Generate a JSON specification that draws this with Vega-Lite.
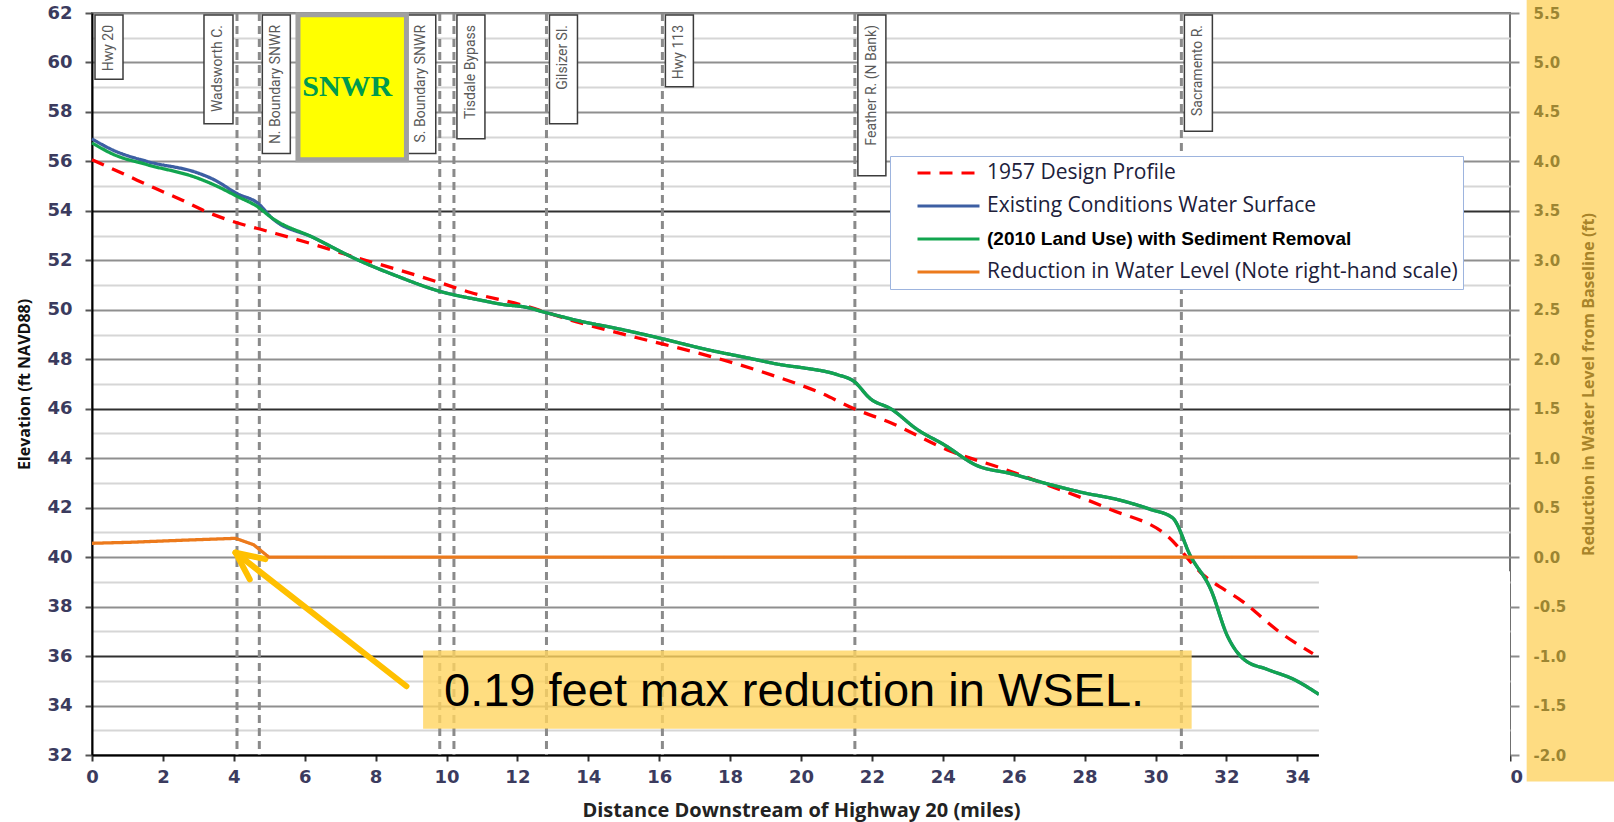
{
  "$schema": "https://vega.github.io/schema/vega-lite/v6.json",
  "width": 1418,
  "height": 742,
  "autosize": {"type": "none"},
  "padding": {"left": 92, "top": 13, "right": 104, "bottom": 67},
  "background": "white",
  "config": {"view": {"stroke": "#707070", "strokeWidth": 2}},
  "data": {"values": [{}]},
  "datasets": {
    "profiles": [
      {"series": "1957 Design Profile", "mile": 0, "elev": 56.07},
      {"series": "1957 Design Profile", "mile": 1.0, "elev": 55.42},
      {"series": "1957 Design Profile", "mile": 1.75, "elev": 54.93},
      {"series": "1957 Design Profile", "mile": 2.5, "elev": 54.46},
      {"series": "1957 Design Profile", "mile": 3.25, "elev": 53.95},
      {"series": "1957 Design Profile", "mile": 4.09, "elev": 53.52},
      {"series": "1957 Design Profile", "mile": 4.94, "elev": 53.18},
      {"series": "1957 Design Profile", "mile": 6.26, "elev": 52.64},
      {"series": "1957 Design Profile", "mile": 7.48, "elev": 52.1},
      {"series": "1957 Design Profile", "mile": 8.61, "elev": 51.63},
      {"series": "1957 Design Profile", "mile": 9.83, "elev": 51.09},
      {"series": "1957 Design Profile", "mile": 10.68, "elev": 50.7},
      {"series": "1957 Design Profile", "mile": 12.09, "elev": 50.21},
      {"series": "1957 Design Profile", "mile": 13.78, "elev": 49.47},
      {"series": "1957 Design Profile", "mile": 15.38, "elev": 48.87},
      {"series": "1957 Design Profile", "mile": 17.26, "elev": 48.19},
      {"series": "1957 Design Profile", "mile": 19.14, "elev": 47.38},
      {"series": "1957 Design Profile", "mile": 20.55, "elev": 46.64},
      {"series": "1957 Design Profile", "mile": 21.5, "elev": 46.0},
      {"series": "1957 Design Profile", "mile": 22.53, "elev": 45.43},
      {"series": "1957 Design Profile", "mile": 24.22, "elev": 44.28},
      {"series": "1957 Design Profile", "mile": 25.63, "elev": 43.61},
      {"series": "1957 Design Profile", "mile": 27.04, "elev": 42.87},
      {"series": "1957 Design Profile", "mile": 28.73, "elev": 41.93},
      {"series": "1957 Design Profile", "mile": 30.34, "elev": 40.85},
      {"series": "1957 Design Profile", "mile": 31.28, "elev": 39.37},
      {"series": "1957 Design Profile", "mile": 32.5, "elev": 38.16},
      {"series": "1957 Design Profile", "mile": 33.53, "elev": 36.94},
      {"series": "1957 Design Profile", "mile": 34.44, "elev": 36.1},
      {"series": "Existing Conditions Water Surface", "mile": 0, "elev": 56.91},
      {"series": "Existing Conditions Water Surface", "mile": 0.6, "elev": 56.45},
      {"series": "Existing Conditions Water Surface", "mile": 1.55, "elev": 56.0},
      {"series": "Existing Conditions Water Surface", "mile": 2.97, "elev": 55.54},
      {"series": "Existing Conditions Water Surface", "mile": 3.43, "elev": 55.27},
      {"series": "Existing Conditions Water Surface", "mile": 4.09, "elev": 54.7},
      {"series": "Existing Conditions Water Surface", "mile": 4.72, "elev": 54.26},
      {"series": "Existing Conditions Water Surface", "mile": 5.03, "elev": 53.77},
      {"series": "Existing Conditions Water Surface", "mile": 6.26, "elev": 52.91},
      {"series": "Existing Conditions Water Surface", "mile": 7.48, "elev": 52.03},
      {"series": "Existing Conditions Water Surface", "mile": 8.61, "elev": 51.36},
      {"series": "Existing Conditions Water Surface", "mile": 9.81, "elev": 50.75},
      {"series": "Existing Conditions Water Surface", "mile": 10.96, "elev": 50.39},
      {"series": "Existing Conditions Water Surface", "mile": 11.62, "elev": 50.21},
      {"series": "Existing Conditions Water Surface", "mile": 12.18, "elev": 50.12},
      {"series": "Existing Conditions Water Surface", "mile": 12.82, "elev": 49.88},
      {"series": "Existing Conditions Water Surface", "mile": 13.78, "elev": 49.54},
      {"series": "Existing Conditions Water Surface", "mile": 14.82, "elev": 49.24},
      {"series": "Existing Conditions Water Surface", "mile": 16.09, "elev": 48.83},
      {"series": "Existing Conditions Water Surface", "mile": 17.26, "elev": 48.42},
      {"series": "Existing Conditions Water Surface", "mile": 18.48, "elev": 48.06},
      {"series": "Existing Conditions Water Surface", "mile": 19.52, "elev": 47.76},
      {"series": "Existing Conditions Water Surface", "mile": 20.08, "elev": 47.65},
      {"series": "Existing Conditions Water Surface", "mile": 21.02, "elev": 47.38},
      {"series": "Existing Conditions Water Surface", "mile": 21.49, "elev": 47.11},
      {"series": "Existing Conditions Water Surface", "mile": 21.96, "elev": 46.4},
      {"series": "Existing Conditions Water Surface", "mile": 22.53, "elev": 46.0},
      {"series": "Existing Conditions Water Surface", "mile": 23.28, "elev": 45.16},
      {"series": "Existing Conditions Water Surface", "mile": 24.03, "elev": 44.55},
      {"series": "Existing Conditions Water Surface", "mile": 24.97, "elev": 43.7},
      {"series": "Existing Conditions Water Surface", "mile": 25.91, "elev": 43.38},
      {"series": "Existing Conditions Water Surface", "mile": 27.04, "elev": 42.93},
      {"series": "Existing Conditions Water Surface", "mile": 27.98, "elev": 42.6},
      {"series": "Existing Conditions Water Surface", "mile": 28.92, "elev": 42.33},
      {"series": "Existing Conditions Water Surface", "mile": 29.86, "elev": 41.93},
      {"series": "Existing Conditions Water Surface", "mile": 30.48, "elev": 41.59},
      {"series": "Existing Conditions Water Surface", "mile": 30.99, "elev": 40.04},
      {"series": "Existing Conditions Water Surface", "mile": 31.56, "elev": 38.69},
      {"series": "Existing Conditions Water Surface", "mile": 32.03, "elev": 36.81},
      {"series": "Existing Conditions Water Surface", "mile": 32.5, "elev": 35.86},
      {"series": "Existing Conditions Water Surface", "mile": 33.16, "elev": 35.46},
      {"series": "Existing Conditions Water Surface", "mile": 33.91, "elev": 35.05},
      {"series": "Existing Conditions Water Surface", "mile": 34.61, "elev": 34.45},
      {"series": "(2010 Land Use) with Sediment Removal", "mile": 0, "elev": 56.75},
      {"series": "(2010 Land Use) with Sediment Removal", "mile": 0.61, "elev": 56.28},
      {"series": "(2010 Land Use) with Sediment Removal", "mile": 1.55, "elev": 55.87},
      {"series": "(2010 Land Use) with Sediment Removal", "mile": 2.97, "elev": 55.33},
      {"series": "(2010 Land Use) with Sediment Removal", "mile": 3.43, "elev": 55.06},
      {"series": "(2010 Land Use) with Sediment Removal", "mile": 4.09, "elev": 54.59},
      {"series": "(2010 Land Use) with Sediment Removal", "mile": 4.72, "elev": 54.12},
      {"series": "(2010 Land Use) with Sediment Removal", "mile": 5.03, "elev": 53.76},
      {"series": "(2010 Land Use) with Sediment Removal", "mile": 6.26, "elev": 52.91},
      {"series": "(2010 Land Use) with Sediment Removal", "mile": 7.48, "elev": 52.03},
      {"series": "(2010 Land Use) with Sediment Removal", "mile": 8.61, "elev": 51.36},
      {"series": "(2010 Land Use) with Sediment Removal", "mile": 9.81, "elev": 50.75},
      {"series": "(2010 Land Use) with Sediment Removal", "mile": 10.96, "elev": 50.39},
      {"series": "(2010 Land Use) with Sediment Removal", "mile": 11.62, "elev": 50.21},
      {"series": "(2010 Land Use) with Sediment Removal", "mile": 12.18, "elev": 50.12},
      {"series": "(2010 Land Use) with Sediment Removal", "mile": 12.82, "elev": 49.88},
      {"series": "(2010 Land Use) with Sediment Removal", "mile": 13.78, "elev": 49.54},
      {"series": "(2010 Land Use) with Sediment Removal", "mile": 14.82, "elev": 49.24},
      {"series": "(2010 Land Use) with Sediment Removal", "mile": 16.09, "elev": 48.83},
      {"series": "(2010 Land Use) with Sediment Removal", "mile": 17.26, "elev": 48.42},
      {"series": "(2010 Land Use) with Sediment Removal", "mile": 18.48, "elev": 48.06},
      {"series": "(2010 Land Use) with Sediment Removal", "mile": 19.52, "elev": 47.76},
      {"series": "(2010 Land Use) with Sediment Removal", "mile": 20.08, "elev": 47.65},
      {"series": "(2010 Land Use) with Sediment Removal", "mile": 21.02, "elev": 47.38},
      {"series": "(2010 Land Use) with Sediment Removal", "mile": 21.49, "elev": 47.11},
      {"series": "(2010 Land Use) with Sediment Removal", "mile": 21.96, "elev": 46.4},
      {"series": "(2010 Land Use) with Sediment Removal", "mile": 22.53, "elev": 46.0},
      {"series": "(2010 Land Use) with Sediment Removal", "mile": 23.28, "elev": 45.16},
      {"series": "(2010 Land Use) with Sediment Removal", "mile": 24.03, "elev": 44.55},
      {"series": "(2010 Land Use) with Sediment Removal", "mile": 24.97, "elev": 43.7},
      {"series": "(2010 Land Use) with Sediment Removal", "mile": 25.91, "elev": 43.38},
      {"series": "(2010 Land Use) with Sediment Removal", "mile": 27.04, "elev": 42.93},
      {"series": "(2010 Land Use) with Sediment Removal", "mile": 27.98, "elev": 42.6},
      {"series": "(2010 Land Use) with Sediment Removal", "mile": 28.92, "elev": 42.33},
      {"series": "(2010 Land Use) with Sediment Removal", "mile": 29.86, "elev": 41.93},
      {"series": "(2010 Land Use) with Sediment Removal", "mile": 30.48, "elev": 41.59},
      {"series": "(2010 Land Use) with Sediment Removal", "mile": 30.99, "elev": 40.04},
      {"series": "(2010 Land Use) with Sediment Removal", "mile": 31.56, "elev": 38.69},
      {"series": "(2010 Land Use) with Sediment Removal", "mile": 32.03, "elev": 36.81},
      {"series": "(2010 Land Use) with Sediment Removal", "mile": 32.5, "elev": 35.86},
      {"series": "(2010 Land Use) with Sediment Removal", "mile": 33.16, "elev": 35.46},
      {"series": "(2010 Land Use) with Sediment Removal", "mile": 33.91, "elev": 35.05},
      {"series": "(2010 Land Use) with Sediment Removal", "mile": 34.61, "elev": 34.45}
    ],
    "reduction": [
      {"series": "Reduction in Water Level (Note right-hand scale)", "mile": 0, "reduction": 0.14},
      {"series": "Reduction in Water Level (Note right-hand scale)", "mile": 1.08, "reduction": 0.15},
      {"series": "Reduction in Water Level (Note right-hand scale)", "mile": 2.49, "reduction": 0.17},
      {"series": "Reduction in Water Level (Note right-hand scale)", "mile": 4.05, "reduction": 0.19},
      {"series": "Reduction in Water Level (Note right-hand scale)", "mile": 4.56, "reduction": 0.125},
      {"series": "Reduction in Water Level (Note right-hand scale)", "mile": 4.99, "reduction": 0.0},
      {"series": "Reduction in Water Level (Note right-hand scale)", "mile": 35.7, "reduction": 0.0}
    ],
    "landmarks": [
      {"label": "Hwy 20", "mile": 0, "side": "right"},
      {"label": "Wadsworth C.", "mile": 4.09, "side": "left"},
      {"label": "N. Boundary SNWR", "mile": 4.72, "side": "right"},
      {"label": "S. Boundary SNWR", "mile": 9.81, "side": "left"},
      {"label": "Tisdale Bypass", "mile": 10.21, "side": "right"},
      {"label": "Gilsizer Sl.", "mile": 12.82, "side": "right"},
      {"label": "Hwy 113", "mile": 16.09, "side": "right"},
      {"label": "Feather R. (N Bank)", "mile": 21.52, "side": "right"},
      {"label": "Sacramento R.", "mile": 30.73, "side": "right"}
    ]
  },
  "layer": [
    {
      "data": {"name": "landmarks"},
      "transform": [{"filter": "datum.mile > 0"}],
      "mark": {"type": "rule", "color": "#8a8a8a", "strokeWidth": 3, "strokeDash": [8, 5]},
      "encoding": {
        "x": {
          "field": "mile", "type": "quantitative",
          "scale": {"domain": [0, 40], "nice": false},
          "axis": {
            "orient": "bottom",
            "values": [0, 2, 4, 6, 8, 10, 12, 14, 16, 18, 20, 22, 24, 26, 28, 30, 32, 34, 36, 38, 40],
            "grid": false, "domainColor": "#000000", "domainWidth": 2,
            "tickSize": 6, "tickColor": "#333333", "tickWidth": 2,
            "labelFlush": false, "labelOverlap": false, "labelPadding": 7,
            "labelFont": "DejaVu Sans", "labelFontSize": 18, "labelFontWeight": "bold", "labelColor": "#3b3b5e",
            "title": "Distance Downstream of Highway 20 (miles)",
            "titleFont": "Open Sans", "titleFontSize": 20, "titleFontWeight": "bold", "titleColor": "#222222",
            "titlePadding": 14
          }
        }
      }
    },
    {
      "data": {"name": "profiles"},
      "mark": {"type": "line", "strokeWidth": 3.3, "interpolate": "monotone"},
      "encoding": {
        "x": {"field": "mile", "type": "quantitative", "scale": {"domain": [0, 40], "nice": false}},
        "y": {
          "field": "elev", "type": "quantitative",
          "scale": {"domain": [32, 62], "nice": false, "zero": false},
          "axis": {
            "orient": "left",
            "values": [32, 33, 34, 35, 36, 37, 38, 39, 40, 41, 42, 43, 44, 45, 46, 47, 48, 49, 50, 51, 52, 53, 54, 55, 56, 57, 58, 59, 60, 61, 62],
            "labelExpr": "datum.value % 2 == 0 ? datum.label : ''",
            "grid": true,
            "gridColor": {"expr": "datum.value % 2 == 1 ? '#d6d6d6' : ((datum.value == 36 || datum.value == 46 || datum.value == 54) ? '#303030' : '#8f8f8f')"},
            "gridWidth": 1.8,
            "domainColor": "#000000", "domainWidth": 2,
            "tickSize": 7, "tickColor": "#555555", "tickWidth": 2,
            "tickOpacity": {"condition": {"test": "datum.value % 2 == 1", "value": 0}, "value": 1},
            "labelPadding": 13, "labelOverlap": false,
            "labelFont": "DejaVu Sans", "labelFontSize": 18, "labelFontWeight": "bold", "labelColor": "#3b3b5e",
            "title": "Elevation (ft NAVD88)",
            "titleFont": "Open Sans", "titleFontSize": 16, "titleFontWeight": "bold", "titleColor": "#111111",
            "titlePadding": 14
          }
        },
        "color": {
          "field": "series", "type": "nominal",
          "scale": {
            "domain": ["1957 Design Profile", "Existing Conditions Water Surface", "(2010 Land Use) with Sediment Removal", "Reduction in Water Level (Note right-hand scale)"],
            "range": ["#ff0000", "#3d5fa3", "#12a54f", "#ec7a1c"]
          },
          "legend": {
            "orient": "none", "legendX": 798, "legendY": 143, "direction": "vertical",
            "title": null, "symbolType": "stroke", "symbolSize": 3844, "symbolStrokeWidth": 3,
            "clipHeight": 24, "rowPadding": 9, "padding": 5, "symbolOffset": 21, "labelOffset": 6,
            "labelLimit": 1000, "fillColor": "#ffffff", "strokeColor": "#9db4de",
            "labelExpr": "datum.value == '(2010 Land Use) with Sediment Removal' ? '\u00a0\u00a0\u00a0' + datum.label : (datum.value == 'Reduction in Water Level (Note right-hand scale)' ? datum.label + '\u00a0\u00a0\u00a0\u00a0\u00a0\u00a0' : datum.label)",
            "labelFont": {"expr": "datum.value == '(2010 Land Use) with Sediment Removal' ? 'Liberation Sans' : 'Open Sans'"},
            "labelFontWeight": {"expr": "datum.value == '(2010 Land Use) with Sediment Removal' ? 'bold' : 'normal'"},
            "labelFontSize": {"expr": "datum.value == '(2010 Land Use) with Sediment Removal' ? 19 : 21"},
            "labelColor": {"expr": "datum.value == '(2010 Land Use) with Sediment Removal' ? '#000000' : '#20203a'"}
          }
        },
        "strokeDash": {
          "field": "series", "type": "nominal",
          "scale": {
            "domain": ["1957 Design Profile", "Existing Conditions Water Surface", "(2010 Land Use) with Sediment Removal", "Reduction in Water Level (Note right-hand scale)"],
            "range": [[13, 9], [1, 0], [1, 0], [1, 0]]
          },
          "legend": {
            "orient": "none", "legendX": 798, "legendY": 143, "direction": "vertical",
            "title": null, "symbolType": "stroke", "symbolSize": 3844, "symbolStrokeWidth": 3,
            "clipHeight": 24, "rowPadding": 9, "padding": 5, "symbolOffset": 21, "labelOffset": 6,
            "labelLimit": 1000, "fillColor": "#ffffff", "strokeColor": "#9db4de",
            "labelExpr": "datum.value == '(2010 Land Use) with Sediment Removal' ? '\u00a0\u00a0\u00a0' + datum.label : (datum.value == 'Reduction in Water Level (Note right-hand scale)' ? datum.label + '\u00a0\u00a0\u00a0\u00a0\u00a0\u00a0' : datum.label)",
            "labelFont": {"expr": "datum.value == '(2010 Land Use) with Sediment Removal' ? 'Liberation Sans' : 'Open Sans'"},
            "labelFontWeight": {"expr": "datum.value == '(2010 Land Use) with Sediment Removal' ? 'bold' : 'normal'"},
            "labelFontSize": {"expr": "datum.value == '(2010 Land Use) with Sediment Removal' ? 19 : 21"},
            "labelColor": {"expr": "datum.value == '(2010 Land Use) with Sediment Removal' ? '#000000' : '#20203a'"}
          }
        }
      }
    },
    {
      "mark": {"type": "rect", "fill": "#ffffff"},
      "encoding": {
        "x": {"datum": 34.61, "type": "quantitative"},
        "x2": {"datum": 40.0},
        "y": {"datum": 39.43, "type": "quantitative", "scale": {"domainMin": 32, "domainMax": 62, "nice": false, "zero": false}, "axis": null},
        "y2": {"datum": 30.5}
      }
    },
    {
      "mark": {"type": "rect", "fill": "#fedc82"},
      "encoding": {
        "x": {"datum": 40.47, "type": "quantitative"},
        "x2": {"datum": 44},
        "y": {"datum": 62.6, "type": "quantitative", "scale": {"domainMin": 32, "domainMax": 62, "nice": false, "zero": false}, "axis": null},
        "y2": {"datum": 30.93}
      }
    },
    {
      "mark": {"type": "rect", "fill": "#ffd460", "opacity": 0.8},
      "encoding": {
        "x": {"datum": 9.34, "type": "quantitative"},
        "x2": {"datum": 31.02},
        "y": {"datum": 36.23, "type": "quantitative", "scale": {"domainMin": 32, "domainMax": 62, "nice": false, "zero": false}, "axis": null},
        "y2": {"datum": 33.06}
      }
    },
    {
      "mark": {"type": "text", "align": "left", "baseline": "alphabetic", "font": "Liberation Sans", "fontSize": 47, "color": "#000000"},
      "encoding": {
        "x": {"datum": 9.93, "type": "quantitative"},
        "y": {"datum": 33.98, "type": "quantitative", "scale": {"domainMin": 32, "domainMax": 62, "nice": false, "zero": false}, "axis": null},
        "text": {"value": "0.19 feet max reduction in WSEL."}
      }
    },
    {
      "mark": {"type": "rule", "color": "#ffc000", "strokeWidth": 6, "strokeCap": "round"},
      "encoding": {
        "x": {"datum": 4.05, "type": "quantitative"},
        "y": {"datum": 40.18, "type": "quantitative", "scale": {"domainMin": 32, "domainMax": 62, "nice": false, "zero": false}, "axis": null},
        "x2": {"datum": 8.87},
        "y2": {"datum": 34.78}
      }
    },
    {
      "mark": {"type": "rule", "color": "#ffc000", "strokeWidth": 6, "strokeCap": "round"},
      "encoding": {
        "x": {"datum": 4.05, "type": "quantitative"},
        "y": {"datum": 40.18, "type": "quantitative", "scale": {"domainMin": 32, "domainMax": 62, "nice": false, "zero": false}, "axis": null},
        "x2": {"datum": 4.45},
        "y2": {"datum": 39.1}
      }
    },
    {
      "mark": {"type": "rule", "color": "#ffc000", "strokeWidth": 6, "strokeCap": "round"},
      "encoding": {
        "x": {"datum": 4.05, "type": "quantitative"},
        "y": {"datum": 40.18, "type": "quantitative", "scale": {"domainMin": 32, "domainMax": 62, "nice": false, "zero": false}, "axis": null},
        "x2": {"datum": 4.89},
        "y2": {"datum": 39.92}
      }
    },
    {
      "data": {"name": "landmarks"},
      "transform": [{"filter": "datum.side == 'right'"}, {"calculate": "61.92 - 0.8 - 0.3 * length(datum.label)", "as": "box_end"}],
      "mark": {"type": "rect", "fill": "#ffffff", "stroke": "#3c3c3c", "strokeWidth": 1.5, "xOffset": 3, "x2Offset": 31},
      "encoding": {
        "x": {"field": "mile", "type": "quantitative"},
        "x2": {"field": "mile"},
        "y": {"field": "box_end", "type": "quantitative", "scale": {"domain": [32, 62], "nice": false, "zero": false}, "axis": null},
        "y2": {"datum": 61.92}
      }
    },
    {
      "data": {"name": "landmarks"},
      "transform": [{"filter": "datum.side == 'left'"}, {"calculate": "61.92 - 0.8 - 0.3 * length(datum.label)", "as": "box_end"}],
      "mark": {"type": "rect", "fill": "#ffffff", "stroke": "#3c3c3c", "strokeWidth": 1.5, "xOffset": -33, "x2Offset": -4},
      "encoding": {
        "x": {"field": "mile", "type": "quantitative"},
        "x2": {"field": "mile"},
        "y": {"field": "box_end", "type": "quantitative", "scale": {"domain": [32, 62], "nice": false, "zero": false}, "axis": null},
        "y2": {"datum": 61.92}
      }
    },
    {
      "data": {"name": "landmarks"},
      "transform": [{"filter": "datum.side == 'right'"}],
      "mark": {"type": "text", "angle": 270, "align": "right", "baseline": "middle", "font": "Roboto", "fontSize": 14, "color": "#5a5a5a", "xOffset": 17, "yOffset": 10},
      "encoding": {
        "x": {"field": "mile", "type": "quantitative"},
        "y": {"datum": 61.92, "type": "quantitative", "scale": {"domainMin": 32, "domainMax": 62, "nice": false, "zero": false}, "axis": null},
        "text": {"field": "label"}
      }
    },
    {
      "data": {"name": "landmarks"},
      "transform": [{"filter": "datum.side == 'left'"}],
      "mark": {"type": "text", "angle": 270, "align": "right", "baseline": "middle", "font": "Roboto", "fontSize": 14, "color": "#5a5a5a", "xOffset": -18.5, "yOffset": 10},
      "encoding": {
        "x": {"field": "mile", "type": "quantitative"},
        "y": {"datum": 61.92, "type": "quantitative", "scale": {"domainMin": 32, "domainMax": 62, "nice": false, "zero": false}, "axis": null},
        "text": {"field": "label"}
      }
    },
    {
      "mark": {"type": "rect", "fill": "#ffff00", "stroke": "#a0a0a0", "strokeWidth": 5},
      "encoding": {
        "x": {"datum": 5.81, "type": "quantitative"},
        "x2": {"datum": 8.87},
        "y": {"datum": 61.93, "type": "quantitative", "scale": {"domainMin": 32, "domainMax": 62, "nice": false, "zero": false}, "axis": null},
        "y2": {"datum": 56.07}
      }
    },
    {
      "mark": {"type": "text", "align": "center", "baseline": "alphabetic", "font": "Liberation Serif", "fontWeight": "bold", "fontSize": 30, "color": "#009a4e"},
      "encoding": {
        "x": {"datum": 7.2, "type": "quantitative"},
        "y": {"datum": 58.63, "type": "quantitative", "scale": {"domainMin": 32, "domainMax": 62, "nice": false, "zero": false}, "axis": null},
        "text": {"value": "SNWR"}
      }
    },
    {
      "data": {"name": "reduction"},
      "mark": {"type": "line", "strokeWidth": 3.3},
      "encoding": {
        "x": {"field": "mile", "type": "quantitative"},
        "y": {
          "field": "reduction", "type": "quantitative",
          "scale": {"domain": [-2, 5.5], "nice": false, "zero": false},
          "axis": {
            "orient": "right",
            "values": [-2, -1.5, -1, -0.5, 0, 0.5, 1, 1.5, 2, 2.5, 3, 3.5, 4, 4.5, 5, 5.5],
            "labelExpr": "(datum.value < 0 ? '-' : '') + format(abs(datum.value), '.1f')",
            "grid": false, "domain": false,
            "tickSize": 9, "tickColor": "#8c8c8c", "tickWidth": 2,
            "labelPadding": 14, "labelOverlap": false,
            "labelFont": "DejaVu Sans", "labelFontSize": 15, "labelFontWeight": "bold", "labelColor": "#9c8532",
            "title": "Reduction in Water Level from Baseline (ft)",
            "titleFont": "Open Sans", "titleFontSize": 16, "titleFontWeight": "bold", "titleColor": "#a8842a",
            "titleAngle": 270, "titleBaseline": "top", "titlePadding": 15,
            "zindex": 1
          }
        },
        "color": {
          "field": "series", "type": "nominal",
          "scale": {
            "domain": ["1957 Design Profile", "Existing Conditions Water Surface", "(2010 Land Use) with Sediment Removal", "Reduction in Water Level (Note right-hand scale)"],
            "range": ["#ff0000", "#3d5fa3", "#12a54f", "#ec7a1c"]
          },
          "legend": null
        },
        "strokeDash": {
          "field": "series", "type": "nominal",
          "scale": {
            "domain": ["1957 Design Profile", "Existing Conditions Water Surface", "(2010 Land Use) with Sediment Removal", "Reduction in Water Level (Note right-hand scale)"],
            "range": [[13, 9], [1, 0], [1, 0], [1, 0]]
          },
          "legend": null
        }
      }
    }
  ],
  "resolve": {"scale": {"y": "independent"}}
}
